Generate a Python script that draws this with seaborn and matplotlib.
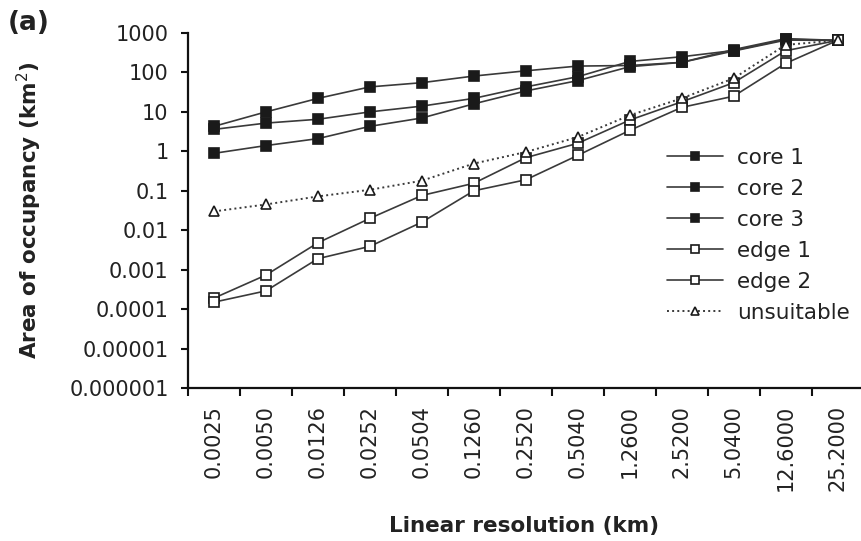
import numpy as np
import pandas as pd
import matplotlib
matplotlib.use("Agg")
import matplotlib.pyplot as plt
import seaborn as sns
from matplotlib.ticker import FixedLocator, NullLocator

# ---- data ----
categories = ["0.0025", "0.0050", "0.0126", "0.0252", "0.0504", "0.1260",
              "0.2520", "0.5040", "1.2600", "2.5200", "5.0400", "12.6000", "25.2000"]
core1 = [4.3, 10, 22, 43, 55, 81, 110, 145, 150, 180, 380, 720, 650]
core2 = [3.6, 5.2, 6.5, 10, 14, 22, 43, 78, 190, 250, 360, 690, 650]
core3 = [0.89, 1.4, 2.1, 4.3, 7, 16, 34, 62, 140, 180, 350, 660, 650]
edge1 = [0.00019, 0.00073, 0.0048, 0.020, 0.076, 0.155, 0.69, 1.6, 6.2, 18, 55, 355, 650]
edge2 = [0.00015, 0.00029, 0.0019, 0.0039, 0.016, 0.10, 0.19, 0.79, 3.4, 13, 25, 170, 650]
unsuitable = [0.030, 0.045, 0.072, 0.106, 0.18, 0.49, 0.96, 2.3, 8.2, 22, 71, 500, 650]
series_names = ["core 1", "core 2", "core 3", "edge 1", "edge 2", "unsuitable"]
y_tick_values = [1e-6, 1e-5, 1e-4, 1e-3, 1e-2, 1e-1, 1, 10, 100, 1000]
y_tick_labels = ["0.000001", "0.00001", "0.0001", "0.001", "0.01", "0.1",
                 "1", "10", "100", "1000"]

sns.set_theme(style="ticks")
plt.rcParams["font.family"] = ["DejaVu Sans"]

fig = plt.figure(figsize=(8.61, 5.41), dpi=100)
ax = fig.add_axes([188 / 861, (541 - 388) / 541, (861 - 188) / 861, 355 / 541])

xpos = np.arange(len(categories))
line_col = "#3a3a3a"
mk = "#1a1a1a"
styles = {
    "core 1": dict(marker="s", mfc=mk, ls="-"),
    "core 2": dict(marker="s", mfc=mk, ls="-"),
    "core 3": dict(marker="s", mfc=mk, ls="-"),
    "edge 1": dict(marker="s", mfc="white", ls="-"),
    "edge 2": dict(marker="s", mfc="white", ls="-"),
    "unsuitable": dict(marker="^", mfc="white", ls=":"),
}
data = [core1, core2, core3, edge1, edge2, unsuitable]
for name, vals in zip(series_names, data):
    st = styles[name]
    sns.lineplot(x=xpos, y=vals, ax=ax, color=line_col,
                 linewidth=1.4 if st["ls"] == ":" else 1.2,
                 marker=st["marker"], markersize=7.5,
                 markerfacecolor=st["mfc"],
                 markeredgecolor=mk, markeredgewidth=1.2,
                 linestyle=st["ls"], label=name, legend=False)

ax.set_yscale("log")
ax.set_ylim(1e-6, 1000)
ax.set_xlim(-0.5, 12.45)
ax.yaxis.set_major_locator(FixedLocator(y_tick_values))
ax.set_yticklabels(y_tick_labels)
ax.yaxis.set_minor_locator(NullLocator())

ax.set_xticks(xpos)
ax.set_xticklabels(categories, rotation=90, va="top", ha="center")
ax.set_xticks(np.arange(-0.5, 12.0, 1.0), minor=True)
ax.tick_params(axis="x", which="major", length=0, pad=12, labelsize=15, colors="#222222")
ax.tick_params(axis="x", which="minor", length=5.5, width=1.5, color="#111111")
ax.tick_params(axis="y", which="major", length=5, width=1.5, pad=9, labelsize=15,
               colors="#222222")
ax.tick_params(axis="y", which="major", color="#111111")

for s in ["top", "right"]:
    ax.spines[s].set_visible(False)
for s in ["left", "bottom"]:
    ax.spines[s].set_linewidth(1.6)
    ax.spines[s].set_color("#111111")
ax.grid(False)
ax.set_facecolor("white")

ax.set_ylabel("Area of occupancy (km$^2$)", fontsize=15.5, fontweight="bold", color="#222222")
ax.yaxis.set_label_coords(-0.214, 0.5)
ax.set_xlabel("Linear resolution (km)", fontsize=15.5, fontweight="bold", color="#222222", va="top")
ax.xaxis.set_label_coords(0.5, -0.36)

fig.text(0.009, 0.981, "(a)", fontsize=19, fontweight="bold", va="top", ha="left", color="#222222")

handles, labels = ax.get_legend_handles_labels()
leg = ax.legend(handles, labels, loc="upper left", bbox_to_anchor=(667 / 861, 1 - 148 / 541),
                bbox_transform=fig.transFigure, frameon=False, fontsize=15.5,
                handlelength=2.6, handletextpad=0.65, labelspacing=0.51,
                borderpad=0, borderaxespad=0, markerscale=0.75)
for t in leg.get_texts():
    t.set_color("#222222")

fig.savefig("out.png", dpi=100, facecolor="white")
